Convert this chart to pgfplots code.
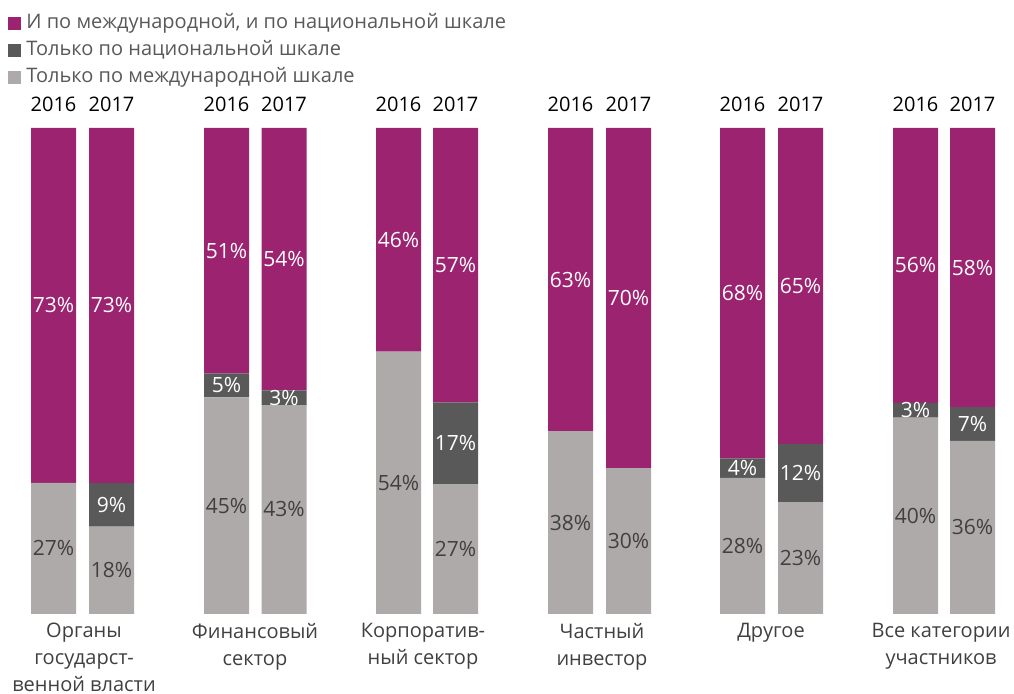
\documentclass[border=0pt]{standalone}
\usepackage{pgfplots}
\pgfplotsset{compat=1.18}
\usepackage{pgfplotstable}
\usepackage{fontspec}
\setmainfont{Open Sans}
\definecolor{cmag}{HTML}{9B2370}
\definecolor{cdark}{HTML}{595959}
\definecolor{clight}{HTML}{AEAAAA}
\definecolor{ctext}{HTML}{404040}
\definecolor{cleg}{HTML}{595959}

% x = bar position, y = share normalised to 100, lab = printed percentage
\pgfplotstableread{
x y lab
53.5 27 27\%
111.5 18 18\%
226.5 44.55 45\%
284 43 43\%
398.5 54 54\%
455.5 26.73 27\%
570.5 37.62 38\%
628.5 30 30\%
742.5 28 28\%
800.5 23 23\%
915.5 40.40 40\%
972.5 35.64 36\%
}\intl
\pgfplotstableread{
x y lab
53.5 0 {}
111.5 9 9\%
226.5 4.95 5\%
284 3 3\%
398.5 0 {}
455.5 16.83 17\%
570.5 0 {}
628.5 0 {}
742.5 4 4\%
800.5 12 12\%
915.5 3.03 3\%
972.5 6.93 7\%
}\natl
\pgfplotstableread{
x y lab
53.5 73 73\%
111.5 73 73\%
226.5 50.50 51\%
284 54 54\%
398.5 46 46\%
455.5 56.44 57\%
570.5 62.38 63\%
628.5 70 70\%
742.5 68 68\%
800.5 65 65\%
915.5 56.57 56\%
972.5 57.43 58\%
}\both

\tikzset{yr/.style={anchor=base, font=\fontsize{10pt}{12pt}\selectfont, text=black, yshift=8pt}}

\begin{document}
\begin{tikzpicture}
\begin{axis}[
  scale only axis, width=507pt, height=243pt,
  xmin=0, xmax=1014, ymin=0, ymax=100,
  ybar stacked, bar width=22.5pt,
  axis line style={draw=none}, ytick=\empty, major tick length=0pt,
  xtick={84,255,423,602,771,941},
  xticklabels={{Органы\\государст-\\венной власти},{Финансовый\\сектор},{Корпоратив-\\ный сектор},{Частный\\инвестор},{Другое},{Все категории\\участников}},
  xticklabel style={align=center, font=\fontsize{10pt}{13.5pt}\selectfont, text=ctext, anchor=north, inner sep=0.5pt, yshift=-4pt},
  clip=false,
  point meta=explicit symbolic,
  nodes near coords,
  every node near coord/.append style={font=\fontsize{10.5pt}{12pt}\selectfont},
  reverse legend,
  legend cell align=left,
  legend image code/.code={\fill[#1] (0pt,-3.25pt) rectangle (6.5pt,3.25pt);},
  legend style={at={(axis cs:0,126.337)}, anchor=north west, draw=none, fill=none,
    xshift=1pt, yshift=-4pt,
    font=\fontsize{10pt}{12pt}\selectfont, text=cleg, row sep=2.5pt,
    nodes={inner sep=0.5pt, text height=7.5pt, text depth=2.5pt},
    /tikz/every odd column/.append style={column sep=2pt}},
]
\addplot+[fill=clight, draw=none, every node near coord/.append style={text=ctext}] table[x=x,y=y,meta=lab]{\intl};
\addplot+[fill=cdark, draw=none, every node near coord/.append style={text=white}] table[x=x,y=y,meta=lab]{\natl};
\addplot+[fill=cmag, draw=none, every node near coord/.append style={text=white}] table[x=x,y=y,meta=lab]{\both};
\legend{Только по международной шкале,Только по национальной шкале,{И по международной, и по национальной шкале}}
\node[yr] at (axis cs:53.5,100) {2016};
\node[yr] at (axis cs:111.5,100) {2017};
\node[yr] at (axis cs:226.5,100) {2016};
\node[yr] at (axis cs:284,100) {2017};
\node[yr] at (axis cs:398.5,100) {2016};
\node[yr] at (axis cs:455.5,100) {2017};
\node[yr] at (axis cs:570.5,100) {2016};
\node[yr] at (axis cs:628.5,100) {2017};
\node[yr] at (axis cs:742.5,100) {2016};
\node[yr] at (axis cs:800.5,100) {2017};
\node[yr] at (axis cs:915.5,100) {2016};
\node[yr] at (axis cs:972.5,100) {2017};
\path (axis cs:0,-16.255) rectangle (axis cs:1014,126.337);
\end{axis}
\end{tikzpicture}
\end{document}
